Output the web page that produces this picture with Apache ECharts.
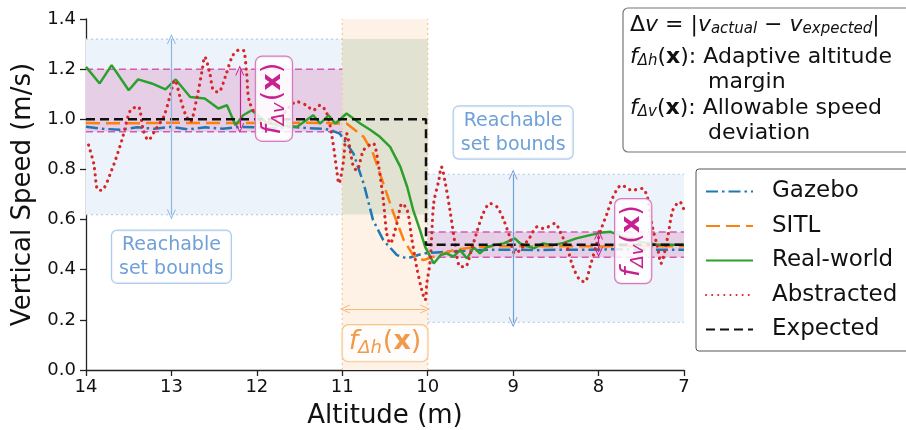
<!DOCTYPE html>
<html>
<head>
<meta charset="utf-8">
<script src="https://cdn.jsdelivr.net/npm/echarts@6/dist/echarts.min.js"></script>
<style>
  html, body { margin: 0; padding: 0; background: #fff; }
  #main { width: 906px; height: 430px; }
</style>
</head>
<body>
<div id="main"></div>
<script>
// altitude ticks (axis runs 14 -> 7)
var altTicks = [14, 13, 12, 11, 10, 9, 8, 7];

// [altitude, vertical speed]
var gazebo = [[14,0.97],[13.8,0.962],[13.6,0.958],[13.4,0.968],[13.2,0.962],[13.0,0.97],[12.8,0.96],[12.6,0.968],
  [12.4,0.962],[12.2,0.97],[12.0,0.968],[11.8,0.964],[11.6,0.97],[11.4,0.965],[11.2,0.962],[11.1,0.952],[11.03,0.943],
  [10.87,0.864],[10.75,0.744],[10.64,0.598],[10.52,0.518],[10.36,0.458],[10.24,0.445],[10.05,0.465],[9.85,0.47],
  [9.6,0.475],[9.3,0.48],[9.0,0.48],[8.7,0.478],[8.4,0.48],[8.1,0.48],[7.8,0.482],[7.5,0.48],[7.2,0.48],[7.0,0.48]];

var sitl = [[14,0.985],[13.5,0.984],[13,0.986],[12.5,0.985],[12,0.985],[11.5,0.986],[11.2,0.985],[10.95,0.983],
  [10.75,0.93],[10.64,0.864],[10.52,0.744],[10.40,0.625],[10.28,0.518],[10.17,0.458],[10.05,0.438],[9.93,0.452],
  [9.70,0.478],[9.47,0.49],[9.2,0.494],[8.8,0.493],[8.4,0.494],[8.0,0.493],[7.6,0.494],[7.0,0.494]];

var realWorld = [[14,1.209],[13.84,1.143],[13.70,1.216],[13.50,1.116],[13.39,1.159],[13.23,1.143],[13.07,1.119],
  [12.95,1.159],[12.78,1.089],[12.61,1.083],[12.45,1.043],[12.35,1.056],[12.25,0.976],[12.16,1.016],[12.06,1.036],
  [11.9,0.99],[11.75,0.975],[11.53,0.97],[11.34,1.016],[11.26,0.983],[11.16,1.016],[11.08,0.983],[10.95,1.023],
  [10.79,0.983],[10.67,0.957],[10.56,0.93],[10.44,0.89],[10.32,0.81],[10.24,0.73],[10.17,0.638],[10.09,0.558],
  [10.03,0.491],[9.93,0.425],[9.85,0.458],[9.78,0.465],[9.70,0.452],[9.62,0.478],[9.54,0.445],[9.46,0.489],
  [9.39,0.465],[9.31,0.489],[9.23,0.498],[9.11,0.505],[8.98,0.525],[8.92,0.505],[8.76,0.485],[8.65,0.505],
  [8.53,0.498],[8.41,0.507],[8.26,0.525],[8.10,0.538],[7.98,0.547],[7.86,0.551],[7.7,0.53],[7.5,0.51],[7.3,0.5],[7.0,0.5]];

var abstracted = [[13.97,0.897],[13.91,0.824],[13.86,0.717],[13.82,0.717],[13.70,0.797],[13.58,0.917],[13.48,1.036],
  [13.39,1.05],[13.33,0.957],[13.27,0.917],[13.19,0.957],[13.09,1.01],[13.02,1.089],[12.96,1.156],[12.90,1.089],
  [12.84,1.023],[12.78,0.99],[12.70,1.089],[12.64,1.196],[12.61,1.249],[12.55,1.182],[12.51,1.116],[12.45,1.109],
  [12.37,1.169],[12.29,1.249],[12.22,1.275],[12.16,1.275],[12.12,1.182],[12.08,1.063],[11.9,0.98],[11.75,1.0],
  [11.53,1.07],[11.42,1.056],[11.34,1.036],[11.26,1.056],[11.18,1.023],[11.12,0.93],[11.06,0.784],[11.04,0.744],
  [10.99,0.824],[10.95,0.943],[10.87,0.81],[10.83,0.797],[10.75,0.877],[10.64,0.904],[10.58,0.824],[10.52,0.678],
  [10.48,0.545],[10.44,0.505],[10.36,0.585],[10.30,0.664],[10.24,0.638],[10.19,0.531],[10.13,0.412],[10.07,0.319],
  [10.03,0.279],[10.01,0.346],[9.97,0.438],[9.93,0.664],[9.87,0.757],[9.84,0.81],[9.80,0.757],[9.74,0.638],
  [9.68,0.505],[9.62,0.412],[9.56,0.412],[9.50,0.465],[9.43,0.545],[9.35,0.625],[9.27,0.664],[9.19,0.651],
  [9.11,0.598],[9.04,0.531],[8.98,0.465],[8.92,0.478],[8.80,0.531],[8.72,0.571],[8.65,0.565],[8.59,0.571],
  [8.51,0.585],[8.45,0.551],[8.37,0.491],[8.30,0.412],[8.22,0.359],[8.16,0.352],[8.10,0.412],[8.02,0.505],
  [7.96,0.571],[7.90,0.625],[7.83,0.691],[7.73,0.737],[7.61,0.717],[7.49,0.724],[7.43,0.691],[7.37,0.571],
  [7.31,0.491],[7.27,0.425],[7.19,0.531],[7.13,0.638],[7.05,0.671],[7.0,0.638]];

var expected = [[14,1.0],[10.02,1.0],[10.02,0.5],[7,0.5]];

// bands: [altFrom, altTo, vLow, vHigh]
var reachLeft = [14, 11, 0.62, 1.32];
var reachRight = [10, 7, 0.19, 0.78];
var marginBand = [11, 10, 0, 1.4];
var overlapBand = [11, 10, 0.62, 1.32];
var devLeft = [14, 11, 0.95, 1.2];
var devRight = [10, 7, 0.45, 0.55];

var FONT = 'DejaVu Sans';
var MAG = '#c8218f';
var chev = 'path://M0,10 L5,0 L10,10 L8.9,10 L5,2.3 L1.1,10 Z';

function area(b, color) {
  return [{ coord: [b[0], b[2]], itemStyle: { color: color } }, { coord: [b[1], b[3]] }];
}
function hline(b, v) { return [[b[0], v], [b[1], v]]; }
function edge(name, pts, color, type, width) {
  return { name: name, type: 'line', data: pts, symbol: 'none', silent: true, z: 2,
    lineStyle: { color: color, type: type, width: width } };
}
function arrow(a, b, color) {
  return [{ coord: a, lineStyle: { color: color } }, { coord: b }];
}

var chart = echarts.init(document.getElementById('main'));

var option = {
  animation: false,
  textStyle: { fontFamily: FONT },
  grid: { left: 86, right: 222, top: 19, bottom: 60, outerBoundsMode: 'none' },
  xAxis: {
    type: 'value', min: 7, max: 14, interval: 1, inverse: true,
    name: 'Altitude (m)', nameLocation: 'middle', nameGap: 33,
    nameTextStyle: { fontSize: 26, color: '#111', fontFamily: FONT },
    axisLine: { lineStyle: { color: '#222', width: 1.3 } },
    axisTick: { length: 6, lineStyle: { color: '#222', width: 1.3 } },
    axisLabel: { fontSize: 18, color: '#111', margin: 8, fontFamily: FONT },
    splitLine: { show: false }
  },
  yAxis: {
    type: 'value', min: 0, max: 1.4, interval: 0.2,
    name: 'Vertical Speed (m/s)', nameLocation: 'middle', nameGap: 48,
    nameTextStyle: { fontSize: 26, color: '#111', fontFamily: FONT },
    axisLine: { show: true, lineStyle: { color: '#222', width: 1.3 } },
    axisTick: { show: true, length: 6, lineStyle: { color: '#222', width: 1.3 } },
    axisLabel: { fontSize: 18, color: '#111', margin: 10, fontFamily: FONT,
      formatter: function (v) { return v.toFixed(1); } },
    splitLine: { show: false }
  },
  legend: {
    data: ['Gazebo', 'SITL', 'Real-world', 'Abstracted', 'Expected'],
    orient: 'vertical', left: 696, top: 169,
    itemWidth: 47, itemHeight: 14, itemGap: 11.5,
    padding: [11, 12, 10, 9],
    itemStyle: { opacity: 0 },
    backgroundColor: '#fff', borderColor: '#555', borderWidth: 1, borderRadius: 3,
    textStyle: { fontSize: 23, color: '#111', fontFamily: FONT, padding: [0, 0, 0, 14] }
  },
  series: [
    {
      name: 'bands', type: 'line', data: [], silent: true, z: 1,
      markArea: {
        silent: true,
        data: [
          area(reachLeft, '#edf3fb'),
          area(reachRight, '#edf3fb'),
          area(marginBand, '#fdf2e5'),
          area(overlapBand, '#e1e2d1'),
          area(devLeft, '#e6cfe6'),
          area(devRight, '#e6cfe6')
        ]
      }
    },
    edge('e1', hline(reachLeft, reachLeft[2]), '#b8d0ea', [2, 3], 1.2),
    edge('e2', hline(reachLeft, reachLeft[3]), '#b8d0ea', [2, 3], 1.2),
    edge('e3', hline(reachRight, reachRight[2]), '#b8d0ea', [2, 3], 1.2),
    edge('e4', hline(reachRight, reachRight[3]), '#b8d0ea', [2, 3], 1.2),
    edge('e5', [[marginBand[0], 0], [marginBand[0], 1.4]], '#f5c894', [2, 3], 1.2),
    edge('e6', [[marginBand[1], 0], [marginBand[1], 1.4]], '#f5c894', [2, 3], 1.2),
    edge('e7', hline(devLeft, devLeft[2]), '#d65bb0', [7, 4], 1.5),
    edge('e8', hline(devLeft, devLeft[3]), '#d65bb0', [7, 4], 1.5),
    edge('e9', hline(devRight, devRight[2]), '#d65bb0', [7, 4], 1.5),
    edge('e10', hline(devRight, devRight[3]), '#d65bb0', [7, 4], 1.5),
    {
      name: 'Gazebo', type: 'line', data: gazebo, symbol: 'none', z: 3,
      itemStyle: { color: '#1f77b4' },
      lineStyle: { color: '#1f77b4', width: 2.5, type: [12, 4, 2.5, 4] }
    },
    {
      name: 'SITL', type: 'line', data: sitl, symbol: 'none', z: 3,
      itemStyle: { color: '#ff7f0e' },
      lineStyle: { color: '#ff7f0e', width: 2.5, type: [14, 6] }
    },
    {
      name: 'Real-world', type: 'line', data: realWorld, symbol: 'none', z: 3,
      itemStyle: { color: '#2ca02c' },
      lineStyle: { color: '#2ca02c', width: 2.5 }
    },
    {
      name: 'Abstracted', type: 'line', data: abstracted, symbol: 'none', z: 3, smooth: 0.3,
      itemStyle: { color: '#d62728' },
      lineStyle: { color: '#d62728', width: 3.2, type: [0.1, 6], cap: 'round' }
    },
    {
      name: 'Expected', type: 'line', data: expected, symbol: 'none', z: 3,
      itemStyle: { color: '#111' },
      lineStyle: { color: '#111', width: 2.5, type: [9, 5] }
    },
    {
      name: 'arrows', type: 'line', data: [], silent: true, z: 4,
      markLine: {
        silent: true, symbol: [chev, chev], symbolSize: [9, 10],
        label: { show: false },
        lineStyle: { width: 1.2, type: 'solid' },
        data: [
          arrow([13, 1.32], [13, 0.62], '#8ab6e0'),
          arrow([9, 0.78], [9, 0.19], '#6f9fd6'),
          arrow([12.2, 1.195], [12.2, 0.965], MAG),
          arrow([8.0, 0.54], [8.0, 0.47], MAG),
          arrow([10.97, 0.243], [10.03, 0.243], '#f5b97a')
        ]
      }
    }
  ]
};
chart.setOption(option);

function px(p) { return chart.convertToPixel({ gridIndex: 0 }, p); }

function reachBox(p) {
  var c = px(p);
  return {
    type: 'text', x: c[0], y: c[1], z: 100,
    style: {
      text: 'Reachable\nset bounds', font: '19px "' + FONT + '"', fill: '#6fa0d8',
      align: 'center', verticalAlign: 'middle', lineHeight: 24,
      backgroundColor: 'rgba(255,255,255,0.85)', borderColor: '#aecbec', borderWidth: 1.2,
      borderRadius: 5, padding: [2, 7, 2, 7]
    }
  };
}

var fRich = {
  i: { fontSize: 27, fontStyle: 'italic', fontFamily: FONT },
  s: { fontSize: 18, fontStyle: 'italic', fontFamily: FONT, padding: [12, 1, 0, 0] },
  p: { fontSize: 27, fontFamily: FONT },
  b: { fontSize: 27, fontWeight: 'bold', fontFamily: FONT }
};
function fBox(p, sub, color, border, rot) {
  var c = px(p);
  return {
    type: 'text', x: c[0], y: c[1], rotation: rot, z: 100,
    style: {
      text: '{i|f}{s|' + sub + '}{p|(}{b|x}{p|)}', rich: fRich, fill: color,
      align: 'center', verticalAlign: 'middle',
      backgroundColor: 'rgba(255,255,255,0.85)', borderColor: border, borderWidth: 1.2,
      borderRadius: 6, padding: [2, 6, 4, 6]
    }
  };
}

var nRich = {
  n: { fontSize: 22, fontFamily: FONT, fill: '#111', lineHeight: 26 },
  i: { fontSize: 22, fontStyle: 'italic', fontFamily: FONT, fill: '#111', lineHeight: 26 },
  s: { fontSize: 15, fontStyle: 'italic', fontFamily: FONT, fill: '#111', padding: [9, 0, 0, 0] },
  b: { fontSize: 22, fontWeight: 'bold', fontFamily: FONT, fill: '#111', lineHeight: 26 }
};
function noteLine(x, y, t) {
  return { type: 'text', x: x, y: y, z: 101,
    style: { text: t, rich: nRich, verticalAlign: 'middle', fill: '#111' } };
}

chart.setOption({
  graphic: [
    reachBox([13.0, 0.452]),
    reachBox([9.0, 0.947]),
    fBox([11.8, 1.082], 'Δv', MAG, '#d57bbd', Math.PI / 2),
    fBox([7.595, 0.514], 'Δv', MAG, '#d57bbd', Math.PI / 2),
    fBox([10.5, 0.107], 'Δh', '#f29a4c', '#f6c690', 0),
    { type: 'rect', z: 100, shape: { x: 623, y: 8, width: 292, height: 144, r: 5 },
      style: { fill: '#fff', stroke: '#777', lineWidth: 1.2 } },
    noteLine(630, 25, '{n|Δ}{i|v}{n| = |}{i|v}{s|actual}{n| − }{i|v}{s|expected}{n||}'),
    noteLine(630, 57, '{i|f}{s|Δh}{n|(}{b|x}{n|): Adaptive altitude}'),
    noteLine(708, 82, '{n|margin}'),
    noteLine(630, 108, '{i|f}{s|Δv}{n|(}{b|x}{n|): Allowable speed}'),
    noteLine(708, 133, '{n|deviation}')
  ]
});
</script>
</body>
</html>
